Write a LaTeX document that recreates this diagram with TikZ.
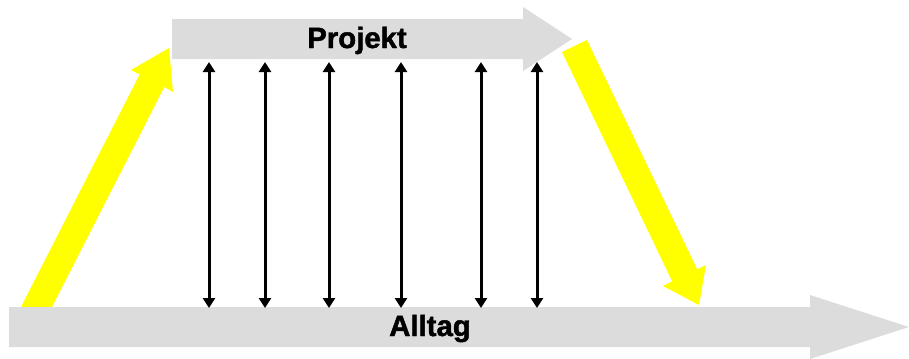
\documentclass[tikz,border=0pt]{standalone}
\usepackage{fontspec}
\setmainfont{Liberation Sans}[BoldFeatures={FakeBold=1.6}]
\usetikzlibrary{arrows.meta}
\definecolor{bandgray}{HTML}{DCDCDC}
\definecolor{flowyellow}{HTML}{FFFF00}
\tikzset{
    label/.style={font=\fontsize{22}{26}\selectfont\bfseries, anchor=base, inner sep=0pt},
    link/.style={line width=2.25pt, {Triangle[length=7.5pt,width=9pt]}-{Triangle[length=7.5pt,width=9pt]}}
}
\begin{document}
\begin{tikzpicture}[x=0.75pt,y=-0.75pt]
    \useasboundingbox (0,0) rectangle (909,358);
    % Yellow arrow up into the project
    \fill [flowyellow] (21,307) -- (139.7,74.4) -- (131,70) -- (169,48) -- (173,92) -- (164.3,87) -- (52,307) -- cycle;
    % Yellow arrow back down to daily business
    \fill [flowyellow] (562,52) -- (672.2,281.3) -- (663,286) -- (699,305) -- (706,265) -- (697.2,269.3) -- (587,40) -- cycle;
    % Project band
    \fill [bandgray] (172,19) -- (523,19) -- (523,7) -- (572,39) -- (523,71) -- (523,59) -- (172,59) -- cycle;
    \node [label] (projekt) at (357,48) {Projekt};
    % Daily business band
    \fill [bandgray] (9,307) -- (810,307) -- (810,295) -- (909,327) -- (810,359) -- (810,347) -- (9,347) -- cycle;
    \node [label] (alltag) at (430,336) {Alltag};
    % Exchange between project and daily business
    \coordinate (p1) at (209,62);  \coordinate (a1) at (209,308);
    \coordinate (p2) at (265,62);  \coordinate (a2) at (265,308);
    \coordinate (p3) at (329,62);  \coordinate (a3) at (329,308);
    \coordinate (p4) at (401,62);  \coordinate (a4) at (401,308);
    \coordinate (p5) at (481,62);  \coordinate (a5) at (481,308);
    \coordinate (p6) at (537,62);  \coordinate (a6) at (537,308);
    \draw [link] (p1) -- (a1);
    \draw [link] (p2) -- (a2);
    \draw [link] (p3) -- (a3);
    \draw [link] (p4) -- (a4);
    \draw [link] (p5) -- (a5);
    \draw [link] (p6) -- (a6);
\end{tikzpicture}
\end{document}
